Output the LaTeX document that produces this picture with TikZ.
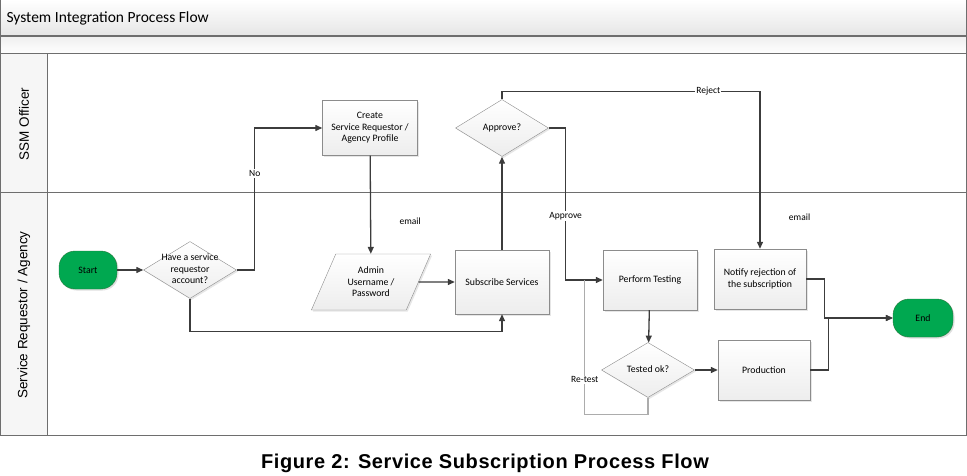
\documentclass[tikz,border=0pt]{standalone}
\usepackage{fontspec}
\setmainfont{Carlito}
\newfontfamily\lanefont{Liberation Sans}
\usetikzlibrary{arrows.meta,shapes.geometric,shadows}
\definecolor{termgreen}{RGB}{0,168,80}
\definecolor{termedge}{RGB}{40,120,60}
\definecolor{linegray}{RGB}{60,60,60}
\definecolor{edgegray}{RGB}{140,140,140}
\definecolor{framegray}{RGB}{110,110,110}
% diamond text that does not size the shape
\newcommand{\dtext}[1]{\makebox[0pt]{\raisebox{-2.5pt}[0pt][0pt]{\begin{tabular}{@{}c@{}}#1\end{tabular}}}}

\begin{document}
\begin{tikzpicture}[x=1pt,y=-1pt,>={Triangle[length=7pt,width=6pt]},
  every node/.style={font=\fontsize{9.8}{11.5}\selectfont},
  procbox/.style={draw=edgegray,top color=white,bottom color=gray!14,align=center,
    minimum width=94pt,minimum height=60pt,inner sep=2pt,
    drop shadow={opacity=.2,shadow xshift=1.5pt,shadow yshift=-1.5pt}},
  decision/.style={diamond,draw=edgegray,top color=white,bottom color=gray!14,inner sep=0pt,
    minimum width=93pt,minimum height=57pt,
    drop shadow={opacity=.2,shadow xshift=1.5pt,shadow yshift=-1.5pt}},
  terminal/.style={draw=termedge,fill=termgreen,rounded corners=16pt,minimum width=58pt,
    minimum height=38pt,drop shadow={opacity=.25,shadow xshift=1.5pt,shadow yshift=-1.5pt}},
  iobox/.style={trapezium,trapezium left angle=62,trapezium right angle=118,trapezium stretches=true,
    draw=edgegray,top color=white,bottom color=gray!14,align=center,minimum width=120pt,minimum height=56pt,
    inner sep=1pt,drop shadow={opacity=.2,shadow xshift=1.5pt,shadow yshift=-1.5pt}},
  flow/.style={draw=linegray,line width=1.3pt},
  retest/.style={draw=gray!65,line width=1.3pt},
  lbl/.style={fill=white,inner sep=1pt,font=\fontsize{9.5}{10.5}\selectfont}]
  \useasboundingbox (0,0) rectangle (967,476);

  % swimlane frame
  \draw[framegray,line width=1pt,top color=white,bottom color=gray!20] (0,0) rectangle (966,36);
  \draw[framegray,line width=1pt,top color=gray!12,bottom color=white] (0,37) rectangle (966,54);
  \draw[framegray,line width=1pt,fill=gray!7] (0,54) rectangle (47,435);
  \draw[framegray,line width=1pt] (47,54) rectangle (966,435);
  \draw[framegray,line width=1pt] (0,193) -- (966,193);
  \node[anchor=west,font=\fontsize{15.5}{18}\selectfont] (title) at (3,18) {System Integration Process Flow};
  \node[rotate=90,font=\lanefont\fontsize{13.5}{15}\selectfont] (lanessm) at (24,124) {SSM Officer};
  \node[rotate=90,font=\lanefont\fontsize{13.5}{15}\selectfont] (laneagency) at (24,315) {Service Requestor / Agency};

  % steps
  \node[terminal] (start) at (88,270) {Start};
  \node[decision] (account) at (190,270) {\dtext{Have a service\\requestor\\account?}};
  \node[procbox,minimum width=95pt,minimum height=55pt] (create) at (370,128) {Create\\Service Requestor /\\Agency Profile};
  \node[decision] (approve) at (502,128) {\dtext{Approve?}};
  \node[iobox] (admin) at (371,282) {Admin\\Username /\\Password};
  \node[procbox,minimum height=64pt] (subscribe) at (502,282) {Subscribe Services};
  \node[procbox] (testing) at (650,280) {Perform Testing};
  \node[procbox,minimum width=92pt] (notify) at (760,279) {Notify rejection of\\the subscription};
  \node[decision,minimum height=55pt] (tested) at (648,370) {\dtext{Tested ok?}};
  \node[procbox,minimum width=92pt] (production) at (764,370) {Production};
  \node[terminal,minimum width=60pt] (end) at (923,318) {End};

  % connectors
  \draw[flow,->] (start) -- (account);
  \draw[flow,->] (account.east) -- ++(18,0) |- node[lbl,pos=0.34] {No} (create.west);
  \draw[flow,->] (create) -- node[pos=0.67,right=25pt,font=\fontsize{9.5}{10.5}\selectfont] {email} (admin);
  \draw[flow,->] (admin.east) -- (subscribe.west);
  \draw[flow,->] (account.south) -- ++(0,33) -| (subscribe.south);
  \draw[flow,->] (subscribe) -- (approve);
  \draw[flow,->] (approve.east) -- ++(17,0) |- node[lbl,pos=0.29] {Approve} (testing.west);
  \draw[flow,->] (approve.north) -- ++(0,-8) -| node[lbl,pos=0.4] {Reject}
    node[pos=0.9,right=25pt,font=\fontsize{9.5}{10.5}\selectfont] {email} (notify.north);
  \draw[flow,->] (testing) -- (tested);
  \draw[flow,->] (tested) -- (production);
  \draw[retest] (tested.south) -- ++(0,17) -| node[lbl,pos=0.63] {Re-test} ([xshift=-18pt]testing.west);
  \draw[flow,->] (notify.east) -- ++(18,0) |- (end.west);
  \draw[flow,->] (production.east) -- ++(18,0) |- (end.west);

  \node[font=\lanefont\bfseries\fontsize{20}{23}\selectfont\addfontfeature{LetterSpace=3}] (caption) at (485,463) {Figure 2: Service Subscription Process Flow};
\end{tikzpicture}
\end{document}
